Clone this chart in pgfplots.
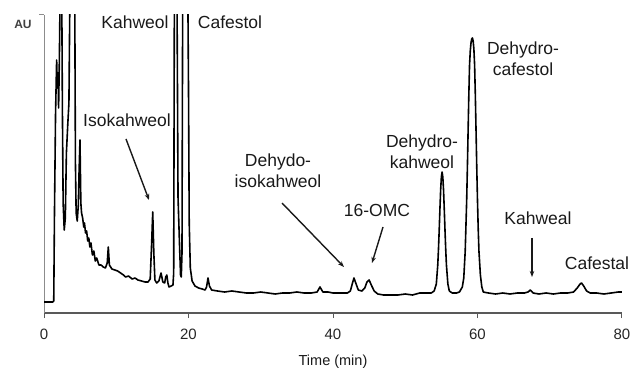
\documentclass[border=0pt]{standalone}
\usepackage{pgfplots}
\pgfplotsset{compat=1.18}
\usepackage{fontspec}
\setmainfont{Liberation Sans}
\usetikzlibrary{arrows.meta}
\begin{document}
\begin{tikzpicture}[x=1pt,y=1pt]
\path[use as bounding box] (0,0) rectangle (634,369);
\begin{axis}[
  at={(44pt,56pt)}, anchor=south west,
  scale only axis, width=578pt, height=298pt,
  xmin=0, xmax=80, ymin=0, ymax=298,
  axis x line=bottom, axis y line=left,
  x axis line style={-, draw=black!65, line width=1.8pt},
  y axis line style={-, draw=black!45, line width=1pt},
  xtick={0,20,40,60,80}, ytick={298}, yticklabels={},
  tick align=outside, major tick length=5pt,
  x tick style={draw=black!65, line width=1pt},
  y tick style={draw=black!45, line width=1pt},
  /pgf/number format/assume math mode=true,
  xticklabel style={font=\fontsize{15}{15}\selectfont, text=black!85, yshift=-7pt},
  clip=true,
]
\addplot[black, line width=1.6pt, line join=round] coordinates {
(0,11) (0.6,11) (1.2,11) (1.35,12) (1.45,100) (1.6,200) (1.75,253) (1.85,225) (1.95,240) (2.02,205) (2.12,250) (2.25,330) (2.45,330) (2.55,200) (2.65,110) (2.8,83) (2.95,95) (3.1,160) (3.3,190) (3.45,210) (3.6,330) (4.25,330) (4.35,150) (4.45,100) (4.6,92) (4.75,108) (4.85,140) (4.98,173) (5.1,110) (5.2,100) (5.35,95) (5.5,86) (5.6,90) (5.75,80) (5.9,82) (6.05,72) (6.2,75) (6.35,66) (6.5,70) (6.7,58) (6.9,62) (7.1,52) (7.3,55) (7.6,48) (7.9,48) (8.2,46) (8.5,45) (8.75,50) (8.9,66) (9.05,48) (9.4,44) (9.8,43) (10.2,42) (10.6,40) (11.0,38) (11.3,36) (11.7,37) (12.2,34) (12.6,35) (13.0,33) (13.5,32) (14.0,31) (14.4,31) (14.7,34) (14.9,70) (15.05,101) (15.2,60) (15.35,33) (15.6,30) (15.9,32) (16.2,40) (16.45,31) (16.7,30) (16.85,36) (17.0,38) (17.15,30) (17.3,26) (17.6,27) (17.85,28) (17.95,40) (18.05,330) (18.4,330) (18.55,116) (18.75,70) (18.9,38) (19.0,36) (19.1,60) (19.2,330) (19.9,330) (20.0,225) (20.1,90) (20.25,45) (20.5,32) (20.9,27) (21.4,25) (21.9,24) (22.3,23) (22.5,26) (22.7,35) (22.9,27) (23.2,23) (24.0,22) (25.0,21) (26.0,22) (27.0,21) (28.0,20) (29.0,20) (30.0,21) (31.0,20) (32.0,19) (33.0,20) (34.0,20) (35.0,21) (36.0,20) (37.0,20) (37.8,21) (38.2,26) (38.6,21) (39.3,21) (40.0,20) (41.0,20) (42.0,20) (42.4,22) (42.7,30) (42.9,35) (43.1,31) (43.5,23) (44.0,22) (44.4,25) (44.7,31) (45.0,33) (45.3,28) (45.7,22) (46.2,19) (47.0,18) (48.0,18) (49.0,18) (50.0,19) (51.0,18) (52.0,20) (53.0,20) (53.6,20) (54.0,22) (54.3,29) (54.5,48) (54.6,64) (54.7,83) (54.8,104) (54.9,123) (55.0,136) (55.1,141) (55.2,136) (55.3,123) (55.4,104) (55.5,83) (55.6,64) (55.7,48) (55.9,29) (56.1,22) (56.5,20) (57.1,20) (57.5,21) (57.9,26) (58.1,35) (58.3,62) (58.5,112) (58.6,145) (58.7,182) (58.8,218) (58.9,248) (59.0,262) (59.1,270) (59.2,274) (59.3,275) (59.4,272) (59.5,264) (59.6,248) (59.7,218) (59.8,182) (59.9,145) (60.0,112) (60.1,84) (60.2,62) (60.4,38) (60.6,26) (60.8,21) (61.5,20) (62.5,19) (63.5,20) (64.5,19) (65.5,20) (66.5,20) (67.0,21) (67.3,23) (67.7,20) (68.5,19) (69.5,20) (70.5,19) (71.5,20) (72.5,20) (73.3,21) (73.8,25) (74.2,29) (74.4,30) (74.7,27) (75.1,22) (75.6,20) (76.5,20) (77.5,19) (78.5,20) (79.5,21) (80.0,21)
};
\end{axis}
\begin{scope}[every node/.style={text=black!90, font=\fontsize{17.5}{21}\selectfont, inner sep=0pt, align=center},
  arr/.style={-{Stealth[length=6pt,width=4.5pt]}, line width=1.4pt, black!90}]
\node[font=\fontsize{12}{12}\selectfont\bfseries, text=black!75] at (23,345) {AU};
\node at (135,347) {Kahweol};
\node at (230,347) {Cafestol};
\node at (127,249) {Isokahweol};
\draw[arr] (126,230) -- (149,169);
\node at (278,198) {Dehydo-\\isokahweol};
\draw[arr] (282,166) -- (344,102);
\node at (377,159) {16-OMC};
\draw[arr] (383,142) -- (372,106);
\node at (422,217) {Dehydro-\\kahweol};
\node at (523,310) {Dehydro-\\cafestol};
\node at (538,151) {Kahweal};
\draw[arr] (532,131) -- (532,92);
\node at (597,106) {Cafestal};
\node[font=\fontsize{14.5}{14.5}\selectfont] at (333,7) {Time (min)};
\end{scope}
\end{tikzpicture}
\end{document}
